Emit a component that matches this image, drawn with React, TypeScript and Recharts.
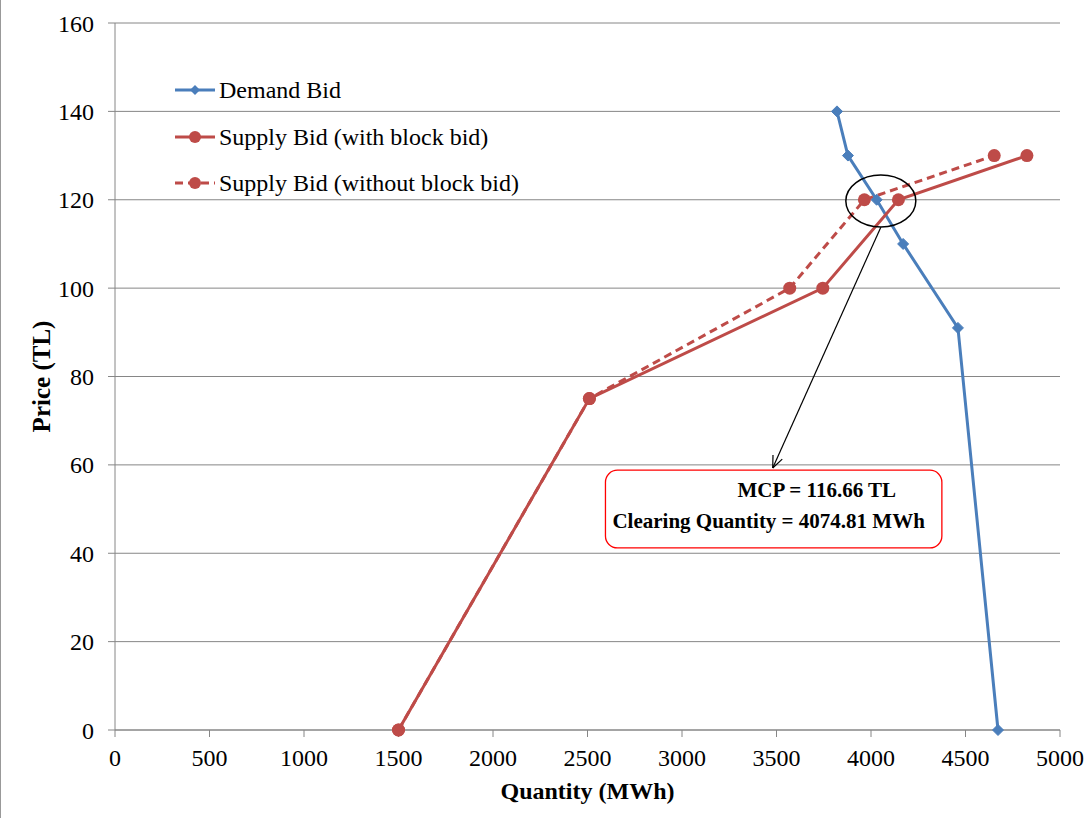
import React from 'react';
import {
  LineChart,
  Line,
  XAxis,
  YAxis,
  CartesianGrid,
  ReferenceDot,
  ReferenceLine,
  ReferenceArea,
} from 'recharts';

const demandQty = [3820, 3878, 4030, 4170, 4460, 4672];
const demandPrice = [140, 130, 120, 110, 91, 0];

const supplyBlockQty = [1500, 2510, 3745, 4145, 4825];
const supplyBlockPrice = [0, 75, 100, 120, 130];

const supplyNoBlockQty = [1500, 2510, 3570, 3965, 4652];
const supplyNoBlockPrice = [0, 75, 100, 120, 130];

const xTicks = [0, 500, 1000, 1500, 2000, 2500, 3000, 3500, 4000, 4500, 5000];
const yTicks = [0, 20, 40, 60, 80, 100, 120, 140, 160];

const mcpLabel = 'MCP = 116.66 TL';
const quantityLabel = 'Clearing Quantity = 4074.81 MWh';

const toPoints = (xs: number[], ys: number[]) => xs.map((x, i) => ({ x, y: ys[i] }));

const demand = toPoints(demandQty, demandPrice);
const supplyBlock = toPoints(supplyBlockQty, supplyBlockPrice);
const supplyNoBlock = toPoints(supplyNoBlockQty, supplyNoBlockPrice);

const BLUE = '#4A7EBB';
const RED = '#BE4B48';
const GRID = '#868686';
const FONT = '"Liberation Serif", "Times New Roman", serif';

const Diamond = (props: any) => {
  const { cx, cy } = props;
  if (cx == null || cy == null) return null;
  const s = 5.5;
  return (
    <polygon
      points={`${cx},${cy - s} ${cx + s},${cy} ${cx},${cy + s} ${cx - s},${cy}`}
      fill={BLUE}
      stroke={BLUE}
    />
  );
};

const Circle = (props: any) => {
  const { cx, cy } = props;
  if (cx == null || cy == null) return null;
  return <circle cx={cx} cy={cy} r={6.5} fill={RED} stroke="none" />;
};

const legendItems = [
  { label: 'Demand Bid', color: BLUE, dash: undefined, mark: 'diamond' },
  { label: 'Supply Bid (with block bid)', color: RED, dash: undefined, mark: 'circle' },
  { label: 'Supply Bid (without block bid)', color: RED, dash: '8 5', mark: 'circle' },
];

// legend sits inside the plot area, top-left
const LegendBox = () => (
  <div
    style={{
      position: 'absolute',
      left: 172,
      top: 67,
      fontFamily: FONT,
      fontSize: 24,
      color: '#000',
      lineHeight: 1,
    }}
  >
    {legendItems.map((it) => (
      <div key={it.label} style={{ display: 'flex', alignItems: 'center', height: 46.5 }}>
        <svg width={44} height={16} style={{ marginRight: 2 }}>
          <line x1={2} y1={8} x2={42} y2={8} stroke={it.color} strokeWidth={3} strokeDasharray={it.dash} />
          {it.mark === 'diamond' ? (
            <polygon points="22,3 27,8 22,13 17,8" fill={it.color} />
          ) : (
            <circle cx={22} cy={8} r={6} fill={it.color} />
          )}
        </svg>
        <span style={{ whiteSpace: 'nowrap' }}>{it.label}</span>
      </div>
    ))}
  </div>
);

const Ellipse = (props: any) => (
  <ellipse cx={props.cx} cy={props.cy} rx={35} ry={26} fill="none" stroke="#000" strokeWidth={1.5} />
);

const Arrow = (props: any) => {
  const { x1, y1, x2, y2 } = props;
  const ang = Math.atan2(y2 - y1, x2 - x1);
  const len = 13;
  const a1 = ang + Math.PI - 0.4;
  const a2 = ang + Math.PI + 0.4;
  return (
    <g stroke="#000" strokeWidth={1.2} fill="none">
      <line x1={x1} y1={y1} x2={x2} y2={y2} />
      <line x1={x2} y1={y2} x2={x2 + len * Math.cos(a1)} y2={y2 + len * Math.sin(a1)} />
      <line x1={x2} y1={y2} x2={x2 + len * Math.cos(a2)} y2={y2 + len * Math.sin(a2)} />
    </g>
  );
};

const AnnotationBox = (props: any) => {
  const { x, y, width, height } = props;
  return (
    <g>
      <rect x={x} y={y} width={width} height={height} rx={12} ry={12} fill="#fff" stroke="#FF0000" strokeWidth={1.3} />
      <text x={x + 132} y={y + 27} fontFamily={FONT} fontWeight="bold" fontSize={21} fill="#000">
        {mcpLabel}
      </text>
      <text x={x + 7} y={y + 58} fontFamily={FONT} fontWeight="bold" fontSize={21} fill="#000">
        {quantityLabel}
      </text>
    </g>
  );
};

export default function App() {
  return (
    <div
      style={{
        position: 'absolute',
        left: 0,
        top: 0,
        width: 1090,
        height: 818,
        background: '#fff',
        borderLeft: '1px solid #999',
        boxSizing: 'border-box',
      }}
    >
      <LineChart width={1089} height={818} margin={{ top: 23, right: 30, bottom: 0, left: 0 }}>
        <CartesianGrid vertical={false} stroke={GRID} strokeWidth={1} />
        <XAxis
          type="number"
          dataKey="x"
          domain={[0, 5000]}
          ticks={xTicks}
          interval={0}
          height={88}
          stroke={GRID}
          tickSize={7}
          tickMargin={12}
          tick={{ fill: '#000', fontSize: 24, fontFamily: FONT }}
          label={{
            value: 'Quantity (MWh)',
            position: 'insideBottom',
            offset: 19,
            style: { fontFamily: FONT, fontSize: 24, fontWeight: 'bold', fill: '#000' },
          }}
        />
        <YAxis
          type="number"
          dataKey="y"
          domain={[0, 160]}
          ticks={yTicks}
          interval={0}
          width={114}
          stroke={GRID}
          tickSize={7}
          tickMargin={14}
          tick={{ fill: '#000', fontSize: 24, fontFamily: FONT }}
          label={{
            value: 'Price (TL)',
            angle: -90,
            position: 'insideLeft',
            offset: 40,
            style: { textAnchor: 'middle', fontFamily: FONT, fontSize: 25, fontWeight: 'bold', fill: '#000' },
          }}
        />
        <Line
          data={demand}
          dataKey="y"
          name="Demand Bid"
          type="linear"
          stroke={BLUE}
          strokeWidth={3}
          dot={<Diamond />}
          activeDot={false}
          isAnimationActive={false}
        />
        <Line
          data={supplyBlock}
          dataKey="y"
          name="Supply Bid (with block bid)"
          type="linear"
          stroke={RED}
          strokeWidth={3}
          dot={<Circle />}
          activeDot={false}
          isAnimationActive={false}
        />
        <Line
          data={supplyNoBlock}
          dataKey="y"
          name="Supply Bid (without block bid)"
          type="linear"
          stroke={RED}
          strokeWidth={3}
          strokeDasharray="8 5"
          dot={<Circle />}
          activeDot={false}
          isAnimationActive={false}
        />
        <ReferenceDot x={4052} y={119.7} shape={Ellipse} />
        <ReferenceLine
          segment={[
            { x: 4052, y: 113.8 },
            { x: 3480, y: 59.3 },
          ]}
          shape={Arrow}
        />
        <ReferenceArea x1={2595} x2={4375} y1={41.2} y2={58.8} shape={AnnotationBox} />
      </LineChart>
      <LegendBox />
    </div>
  );
}
